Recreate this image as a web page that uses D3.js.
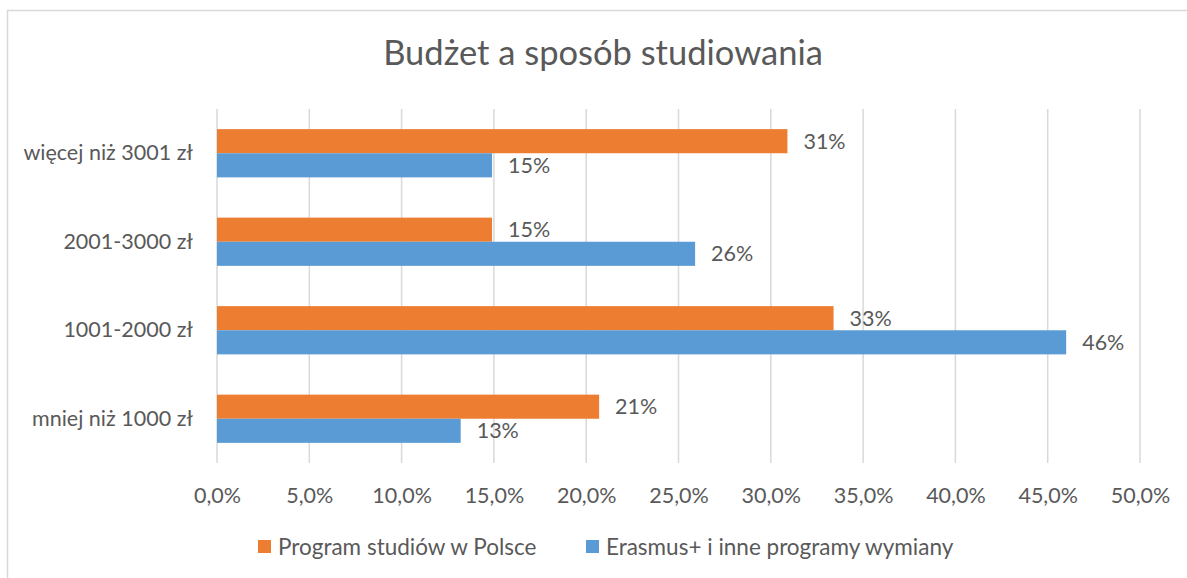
<!DOCTYPE html>
<html>
<head>
<meta charset="utf-8">
<script src="https://cdn.jsdelivr.net/npm/d3@7"></script>
<style>
  body { margin: 0; background: #fff; }
  svg text { font-family: Lato, "Open Sans", sans-serif; fill: #595959; }
</style>
</head>
<body>
<div id="chart"></div>
<script>
// Dane wykresu
const categories = ["więcej niż 3001 zł", "2001-3000 zł", "1001-2000 zł", "mniej niż 1000 zł"];
const seriesNames = ["Program studiów w Polsce", "Erasmus+ i inne programy wymiany"];
const polska = [0.309, 0.149, 0.334, 0.207];
const erasmus = [0.149, 0.259, 0.460, 0.132];
const xTicks = [0, 0.05, 0.10, 0.15, 0.20, 0.25, 0.30, 0.35, 0.40, 0.45, 0.50];
const colors = ["#ED7D31", "#5B9BD5"];

const W = 1187, H = 578;
const margin = { top: 109, right: 47, bottom: 115, left: 217 };
const width = W - margin.left - margin.right;
const height = H - margin.top - margin.bottom;

const svg = d3.select("#chart").append("svg")
    .attr("width", W)
    .attr("height", H);

// Ramka wykresu (tylko lewa i górna krawędź widoczna)
svg.append("rect")
    .attr("x", 7.5).attr("y", 10.5)
    .attr("width", W + 20).attr("height", H + 20)
    .attr("fill", "none")
    .attr("stroke", "#d9d9d9")
    .attr("stroke-width", 1.5);

// Tytuł
svg.append("text")
    .attr("x", 603)
    .attr("y", 65)
    .attr("text-anchor", "middle")
    .attr("font-size", "34.5px")
    .text("Budżet a sposób studiowania");

const g = svg.append("g")
    .attr("transform", `translate(${margin.left},${margin.top})`);

const x = d3.scaleLinear().domain([0, 0.5]).range([0, width]);
const y = d3.scaleBand().domain(categories).range([0, height]).paddingInner(0.455).paddingOuter(0.2275);
const ySub = d3.scaleBand().domain([0, 1]).range([0, y.bandwidth()]);

// Linie siatki
g.append("g")
    .selectAll("line")
    .data(xTicks)
    .join("line")
    .attr("x1", d => x(d)).attr("x2", d => x(d))
    .attr("y1", 0).attr("y2", height)
    .attr("stroke", "#d9d9d9")
    .attr("stroke-width", 1.5);

// Oś X
const xAxis = g.append("g")
    .attr("transform", `translate(0,${height})`)
    .call(d3.axisBottom(x).tickValues(xTicks).tickSize(0).tickPadding(25)
        .tickFormat(d => (d * 100).toFixed(1).replace(".", ",") + "%"));
xAxis.select(".domain").remove();
xAxis.selectAll("text").attr("font-size", "21.5px").attr("fill", "#595959")
    .style("font-family", "Lato, sans-serif");

// Oś Y
const yAxis = g.append("g")
    .call(d3.axisLeft(y).tickSize(0).tickPadding(24));
yAxis.select(".domain").remove();
yAxis.selectAll("text").attr("font-size", "21.5px").attr("fill", "#595959")
    .style("font-family", "Lato, sans-serif");

// Słupki
const rows = categories.map((c, i) => ({ cat: c, values: [polska[i], erasmus[i]] }));
const groups = g.selectAll(".grp")
    .data(rows)
    .join("g")
    .attr("class", "grp")
    .attr("transform", d => `translate(0,${y(d.cat)})`);

groups.selectAll("rect")
    .data(d => d.values.map((v, k) => ({ v, k })))
    .join("rect")
    .attr("x", 0)
    .attr("y", d => ySub(d.k))
    .attr("width", d => x(d.v))
    .attr("height", ySub.bandwidth())
    .attr("fill", d => colors[d.k]);

// Etykiety danych
groups.selectAll(".lbl")
    .data(d => d.values.map((v, k) => ({ v, k })))
    .join("text")
    .attr("class", "lbl")
    .attr("x", d => x(d.v) + 16)
    .attr("y", d => ySub(d.k) + ySub.bandwidth() / 2)
    .attr("dy", "0.35em")
    .attr("font-size", "21.5px")
    .text(d => Math.round(d.v * 100) + "%");

// Legenda
const legendX = [258, 586];
const legend = svg.append("g");
seriesNames.forEach((name, i) => {
    legend.append("rect")
        .attr("x", legendX[i]).attr("y", 540)
        .attr("width", 13).attr("height", 13)
        .attr("fill", colors[i]);
    legend.append("text")
        .attr("x", legendX[i] + 20).attr("y", 555)
        .attr("font-size", "22.5px")
        .text(name);
});
</script>
</body>
</html>
